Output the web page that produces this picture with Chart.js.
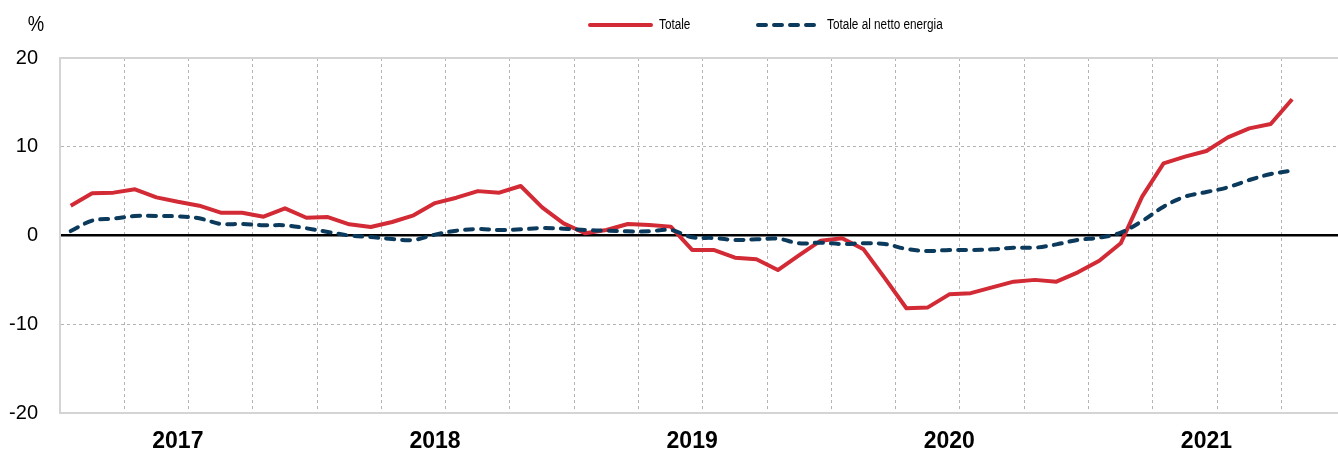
<!DOCTYPE html>
<html>
<head>
<meta charset="utf-8">
<script src="https://cdn.jsdelivr.net/npm/chart.js@4.4.0/dist/chart.umd.min.js"></script>
<style>
  html, body { margin: 0; padding: 0; background: #fff; overflow: hidden; }
  #wrap { width: 1338px; height: 452px; position: relative; }
</style>
</head>
<body>
<div id="wrap"><canvas id="grafico"></canvas></div>
<script>
// anni e mesi (asse x): da gen 2017 a ott 2021
const anni = ['2017', '2018', '2019', '2020', '2021'];
const mesi = ['gen', 'feb', 'mar', 'apr', 'mag', 'giu', 'lug', 'ago', 'set', 'ott', 'nov', 'dic'];

// variazioni percentuali
const totale = [
  3.36, 4.75, 4.83, 5.2, 4.3, 3.8, 3.36, 2.57, 2.57, 2.12, 3.06, 2.0,
  2.08, 1.26, 0.96, 1.52, 2.27, 3.65, 4.26, 5.0, 4.83, 5.58, 3.17, 1.37,
  0.25, 0.62, 1.3, 1.18, 1.0, -1.63, -1.63, -2.5, -2.68, -3.89, -2.2, -0.58,
  -0.32, -1.56, -4.83, -8.2, -8.1, -6.63, -6.5, -5.84, -5.2, -5.0, -5.2, -4.15,
  -2.84, -0.88, 4.38, 8.13, 8.88, 9.52, 11.06, 12.07, 12.56, 15.35
];
const nettoEnergia = [
  0.5, 1.67, 1.9, 2.2, 2.2, 2.16, 1.94, 1.3, 1.3, 1.15, 1.15, 0.81,
  0.4, 0.0, -0.17, -0.4, -0.5, 0.1, 0.54, 0.73, 0.62, 0.7, 0.85, 0.77,
  0.62, 0.54, 0.47, 0.47, 0.62, -0.2, -0.28, -0.5, -0.43, -0.36, -0.88, -0.81,
  -0.96, -0.88, -0.96, -1.52, -1.75, -1.63, -1.63, -1.56, -1.37, -1.37, -1.0, -0.5,
  -0.24, 0.32, 1.63, 3.25, 4.38, 4.9, 5.43, 6.25, 6.93, 7.3
];
const yTicks = [-20, -10, 0, 10, 20];

const FONT = "'Liberation Sans', Arial, sans-serif";
const ROSSO = '#d22b36';
const BLU = '#0b3a5c';

// etichette dei mesi, una per punto
const etichette = [];
anni.forEach(a => mesi.forEach(m => etichette.push(m + ' ' + a)));

// ogni mese occupa un'unità dell'asse x, il punto sta al centro del mese
const toPoints = arr => arr.map((v, i) => ({ x: i + 0.5, y: v, label: etichette[i] }));

// testo "stretto" (l'originale usa un font narrow)
function testoStretto(ctx, txt, x, y, align) {
  const k = 0.84;
  ctx.save();
  ctx.translate(x, y);
  ctx.scale(k, 1);
  ctx.textAlign = align;
  ctx.fillText(txt, 0, 0);
  ctx.restore();
}

// legenda e simbolo "%" disegnati a mano sopra il grafico
const legendaManuale = {
  id: 'legendaManuale',
  afterDraw(chart) {
    const ctx = chart.ctx;
    ctx.save();
    ctx.fillStyle = '#000';
    ctx.textBaseline = 'middle';
    ctx.font = '22px ' + FONT;
    testoStretto(ctx, '%', 36, 25, 'center');

    ctx.font = '14px ' + FONT;
    let x = 588;
    [1, 0].forEach(idx => {
      const ds = chart.data.datasets[idx];
      ctx.strokeStyle = ds.borderColor;
      ctx.lineWidth = ds.borderWidth;
      ctx.lineCap = 'round';
      ctx.setLineDash(ds.borderDash || []);
      ctx.beginPath();
      ctx.moveTo(x + 2, 25);
      ctx.lineTo(x + 63, 25);
      ctx.stroke();
      ctx.setLineDash([]);
      testoStretto(ctx, ds.label, x + 71, 25, 'left');
      x += 168;
    });
    ctx.restore();
  }
};

const ctx = document.getElementById('grafico').getContext('2d');
const myChart = new Chart(ctx, {
  type: 'line',
  data: {
    datasets: [
      {
        label: 'Totale al netto energia',
        data: toPoints(nettoEnergia),
        borderColor: BLU,
        borderWidth: 4,
        borderDash: [8, 8],
        borderCapStyle: 'round',
        pointRadius: 0,
        tension: 0.35,
        fill: false,
        order: 0
      },
      {
        label: 'Totale',
        data: toPoints(totale),
        borderColor: ROSSO,
        borderWidth: 4,
        borderJoinStyle: 'round',
        pointRadius: 0,
        tension: 0,
        fill: false,
        order: 1
      }
    ]
  },
  options: {
    responsive: true,
    maintainAspectRatio: false,
    animation: false,
    devicePixelRatio: 1,
    layout: { padding: { top: 58, left: 0, right: 0, bottom: 0 } },
    plugins: {
      legend: { display: false },
      tooltip: { enabled: false }
    },
    scales: {
      x: {
        type: 'linear',
        min: 0,
        max: 59.64, // il grafico originale è tagliato a destra
        afterFit: s => { s.height = 39; },
        afterBuildTicks: axis => {
          const t = [];
          for (let v = 3; v < axis.max; v += 3) t.push({ value: v });
          anni.forEach((a, i) => t.push({ value: i * 12 + 5.5 }));
          t.sort((a, b) => a.value - b.value);
          axis.ticks = t;
        },
        ticks: {
          autoSkip: false,
          maxRotation: 0,
          padding: 15,
          color: '#000',
          font: { family: FONT, size: 23, weight: 'bold' },
          callback: v => {
            const k = (v - 5.5) / 12;
            return Number.isInteger(k) ? anni[k] : '';
          }
        },
        grid: {
          drawTicks: false,
          lineWidth: 1,
          color: c => (c.tick && c.tick.value % 3 === 0) ? '#b4b4b4' : 'rgba(0,0,0,0)'
        },
        border: { display: true, color: '#d4d4d4', width: 2, dash: [3, 3] }
      },
      y: {
        min: -20,
        max: 20,
        afterFit: s => { s.width = 60; },
        afterBuildTicks: axis => { axis.ticks = yTicks.map(v => ({ value: v })); },
        ticks: {
          padding: 22,
          color: '#000',
          font: { family: FONT, size: 20 }
        },
        grid: {
          drawTicks: false,
          color: c => {
            const v = c.tick && c.tick.value;
            if (v === 0) return '#000';
            if (v === 20) return '#d4d4d4';
            if (v === -20) return 'rgba(0,0,0,0)';
            return '#b4b4b4';
          },
          lineWidth: c => {
            const v = c.tick && c.tick.value;
            if (v === 0) return 2.5;
            if (v === 20) return 2;
            return 1;
          }
        },
        border: {
          display: true,
          color: '#d4d4d4',
          width: 2,
          dash: c => {
            const v = c.tick && c.tick.value;
            return (v === 0 || v === 20) ? [] : [3, 3];
          }
        }
      }
    }
  },
  plugins: [legendaManuale]
});
</script>
</body>
</html>
